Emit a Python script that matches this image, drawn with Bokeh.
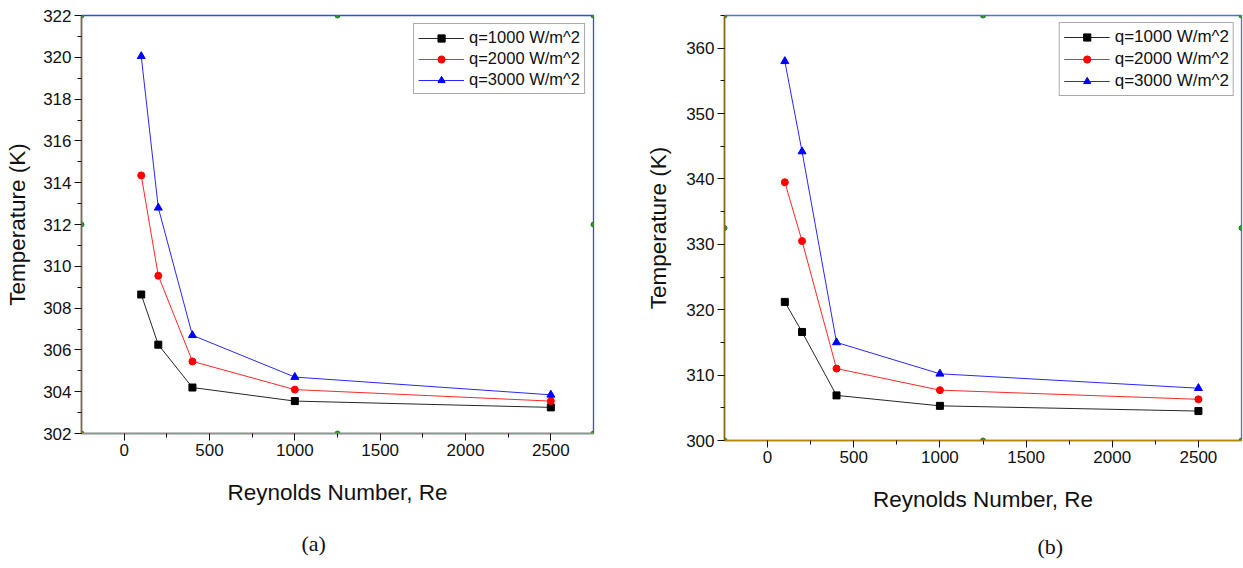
from bokeh.plotting import figure
from bokeh.models import FixedTicker, Range1d, Title, Legend
from bokeh.layouts import row
from bokeh.embed import file_html
from bokeh.resources import INLINE

# ---------------- data ----------------
re_vals = [100, 200, 400, 1000, 2500]

a_q1000 = [308.65, 306.25, 304.2, 303.55, 303.25]
a_q2000 = [314.35, 309.55, 305.45, 304.1, 303.55]
a_q3000 = [320.05, 312.8, 306.7, 304.7, 303.85]

b_q1000 = [321.2, 316.6, 306.9, 305.3, 304.5]
b_q2000 = [339.5, 330.5, 311.0, 307.7, 306.3]
b_q3000 = [358.0, 344.2, 315.0, 310.2, 308.0]

series_labels = ["q=1000 W/m^2", "q=2000 W/m^2", "q=3000 W/m^2"]
x_ticks = [0, 500, 1000, 1500, 2000, 2500]
x_minor = [250, 750, 1250, 1750, 2250]
a_yticks = [302, 304, 306, 308, 310, 312, 314, 316, 318, 320, 322]
a_yminor = [303, 305, 307, 309, 311, 313, 315, 317, 319, 321]
b_yticks = [300, 310, 320, 330, 340, 350, 360]
b_yminor = [305, 315, 325, 335, 345, 355, 365]

FONT = "Liberation Sans"


def make_panel(ys, yr, yticks, yminor, caption, width, fw, fh, ml, mt, mb,
               left_col, bottom_col, frame_col, leg_margin, leg_font,
               cap_offset, cap_standoff, ylab_standoff):
    p = figure(width=width, height=568, output_backend="svg", toolbar_location=None,
               x_range=Range1d(-250, 2750), y_range=Range1d(*yr),
               frame_width=fw, frame_height=fh,
               min_border_left=ml, min_border_top=mt, min_border_bottom=mb,
               min_border_right=width - ml - fw)
    p.xgrid.visible = False
    p.ygrid.visible = False
    p.outline_line_color = frame_col
    p.outline_line_width = 1.3
    p.outline_line_alpha = 1.0
    p.background_fill_color = "white"
    p.border_fill_color = "white"

    xa = p.xaxis[0]
    xa.ticker = FixedTicker(ticks=x_ticks, minor_ticks=x_minor)
    xa.axis_label = "Reynolds Number, Re"
    ya = p.yaxis[0]
    ya.ticker = FixedTicker(ticks=yticks, minor_ticks=yminor)
    ya.axis_label = "Temperature (K)"
    for ax in (xa, ya):
        ax.axis_label_text_font = FONT
        ax.axis_label_text_font_size = "22.5px"
        ax.axis_label_text_font_style = "normal"
        ax.axis_label_text_color = "#111111"
        ax.major_label_text_font = FONT
        ax.major_label_text_font_size = "17px"
        ax.major_label_text_color = "#111111"
        ax.major_tick_in = 0
        ax.major_tick_out = 7
        ax.minor_tick_in = 0
        ax.minor_tick_out = 4
        ax.major_tick_line_color = "#111111"
        ax.minor_tick_line_color = "#111111"
        ax.axis_line_width = 1.6
    xa.axis_line_color = bottom_col
    ya.axis_line_color = left_col
    xa.major_label_standoff = 3
    xa.axis_label_standoff = 21
    ya.major_label_standoff = 3
    ya.axis_label_standoff = ylab_standoff

    colors = ["black", "red", "blue"]
    markers = ["square", "circle", "triangle"]
    sizes = [7, 7, 8]
    items = []
    for yv, c, m, s, lab in zip(ys, colors, markers, sizes, series_labels):
        l = p.line(re_vals, yv, line_color=c, line_width=1, line_alpha=0.85)
        sc = p.scatter(re_vals, yv, marker=m, size=s, fill_color=c, line_color=c)
        items.append((lab, [l, sc]))
    leg = Legend(items=items, location="top_right")
    leg.label_text_font = FONT
    leg.label_text_font_size = leg_font
    leg.label_text_color = "#111111"
    leg.border_line_color = "#555555"
    leg.border_line_width = 1
    leg.glyph_width = 46
    leg.glyph_height = 18
    leg.label_height = 18
    leg.spacing = 2
    leg.padding = 4
    leg.margin = leg_margin
    leg.label_standoff = 5
    leg.background_fill_alpha = 1
    p.add_layout(leg, "center")

    # selection handles at frame corners / mid-sides (derived from ranges)
    x0, x1 = p.x_range.start, p.x_range.end
    y0, y1 = p.y_range.start, p.y_range.end
    xm, ym = (x0 + x1) / 2, (y0 + y1) / 2
    hx = [x0, xm, x1, x0, x1, x0, xm, x1]
    hy = [y1, y1, y1, ym, ym, y0, y0, y0]
    p.scatter(hx, hy, marker="circle", size=5, fill_color="#2e9b2e", line_color="#1f7a1f")

    cap = Title(text=caption, align="left", offset=cap_offset,
                text_font="Liberation Serif", text_font_size="22px",
                text_font_style="normal", text_color="#111111", standoff=cap_standoff)
    p.add_layout(cap, "below")
    return p


p1 = make_panel([a_q1000, a_q2000, a_q3000], (302, 322), a_yticks, a_yminor, "(a)",
                620, 512, 418, 81, 15, 135,
                "#7c7410", "#a8983a", "#2f4fe0", 8, "16.5px", 220, 43, 10)
p2 = make_panel([b_q1000, b_q2000, b_q3000], (300, 365), b_yticks, b_yminor, "(b)",
                623, 517, 425, 104, 11, 132,
                "#8b6914", "#b8860b", "#4f6fe8", 7, "17px", 313, 34, 12)

layout = row(p1, p2)
open("out.html", "w").write(file_html(layout, INLINE))
